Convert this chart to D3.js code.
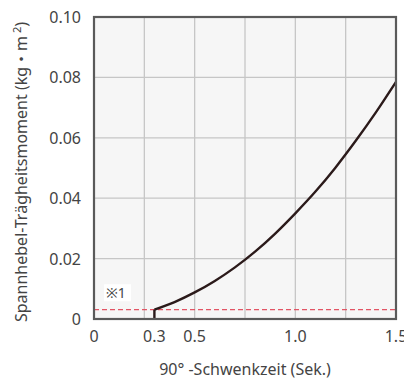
<!DOCTYPE html>
<html>
<head>
<meta charset="utf-8">
<script src="https://cdn.jsdelivr.net/npm/d3@7"></script>
<style>
  body { margin: 0; background: #fff; }
  text { font-family: "Noto Sans", "Noto Sans CJK JP", sans-serif; fill: #444; }
</style>
</head>
<body>
<svg id="chart" width="404" height="381"></svg>
<script>
// Schwenkzeit (s) und Trägheitsmoment (kg·m²)
const zeit = [0.3, 0.4, 0.5, 0.6, 0.7, 0.8, 0.9, 1.0, 1.1, 1.2, 1.3, 1.4, 1.5];
const moment = [0.0031, 0.0056, 0.0088, 0.0126, 0.0171, 0.0223, 0.0283, 0.0350, 0.0422, 0.0502, 0.0590, 0.0684, 0.0785];
const grenzwert = 0.0031; // ※1
const xTicks = [0, 0.3, 0.5, 1.0, 1.5];
const xTickLabels = ["0", "0.3", "0.5", "1.0", "1.5"];
const xGrid = [0.25, 0.5, 0.75, 1.0, 1.25];
const yTicks = [0, 0.02, 0.04, 0.06, 0.08, 0.10];
const yTickLabels = ["0", "0.02", "0.04", "0.06", "0.08", "0.10"];

let svg = d3.select("#chart");
let m = { left: 94, top: 17, right: 396, bottom: 319 };

let x = d3.scaleLinear().domain([0, 1.5]).range([m.left, m.right]);
let y = d3.scaleLinear().domain([0, 0.1]).range([m.bottom, m.top]);

// Hintergrund
svg.append("rect")
    .attr("x", m.left).attr("y", m.top)
    .attr("width", m.right - m.left).attr("height", m.bottom - m.top)
    .attr("fill", "#f6f6f6");

// Gitter
svg.append("g").selectAll("line")
    .data(xGrid).enter().append("line")
    .attr("x1", d => x(d)).attr("x2", d => x(d))
    .attr("y1", m.top).attr("y2", m.bottom)
    .attr("stroke", "#c6c6c6").attr("stroke-width", 1.3);

svg.append("g").selectAll("line")
    .data(yTicks.slice(1, -1)).enter().append("line")
    .attr("x1", m.left).attr("x2", m.right)
    .attr("y1", d => y(d)).attr("y2", d => y(d))
    .attr("stroke", "#c6c6c6").attr("stroke-width", 1.3);

// Grenzlinie ※1
svg.append("line")
    .attr("x1", m.left).attr("x2", m.right)
    .attr("y1", y(grenzwert)).attr("y2", y(grenzwert))
    .attr("stroke", "#e25565").attr("stroke-width", 1.3)
    .attr("stroke-dasharray", "5,3");

svg.append("rect")
    .attr("x", x(0.05)).attr("y", y(0.0115))
    .attr("width", 27).attr("height", 17)
    .attr("fill", "#fff");

svg.append("text")
    .attr("x", x(0.05) + 2).attr("y", y(0.0115) + 14)
    .attr("font-size", 14)
    .text("※1");

// Kurve
let punkte = zeit.map((t, i) => [t, moment[i]]);
let linie = d3.line()
    .x(d => x(d[0])).y(d => y(d[1]))
    .curve(d3.curveMonotoneX);

svg.append("path")
    .attr("d", `M${x(zeit[0])},${y(0)}L${x(zeit[0])},${y(moment[0])}`)
    .attr("fill", "none").attr("stroke", "#2b1a1a").attr("stroke-width", 2.4);

svg.append("path")
    .datum(punkte)
    .attr("d", linie)
    .attr("fill", "none").attr("stroke", "#2b1a1a").attr("stroke-width", 2.4);

// Rahmen
svg.append("rect")
    .attr("x", m.left).attr("y", m.top)
    .attr("width", m.right - m.left).attr("height", m.bottom - m.top)
    .attr("fill", "none").attr("stroke", "#5a5a5a").attr("stroke-width", 2.2);

// Achsenbeschriftung
svg.append("g").selectAll("text")
    .data(xTicks).enter().append("text")
    .attr("x", d => x(d)).attr("y", 342)
    .attr("text-anchor", "middle").attr("font-size", 16)
    .text((d, i) => xTickLabels[i]);

svg.append("g").selectAll("text")
    .data(yTicks).enter().append("text")
    .attr("x", 81).attr("y", d => y(d) + 6)
    .attr("text-anchor", "end").attr("font-size", 16)
    .text((d, i) => yTickLabels[i]);

svg.append("text")
    .attr("x", 245).attr("y", 375)
    .attr("text-anchor", "middle").attr("font-size", 16)
    .text("90° -Schwenkzeit (Sek.)");

let yLabel = svg.append("text")
    .attr("transform", "translate(27,172) rotate(-90)")
    .attr("text-anchor", "middle").attr("font-size", 16);
yLabel.append("tspan").text("Spannhebel-Trägheitsmoment (kg・m");
yLabel.append("tspan").attr("font-size", 11).attr("dy", -6).text(" 2");
yLabel.append("tspan").attr("dy", 6).text(")");
</script>
</body>
</html>
